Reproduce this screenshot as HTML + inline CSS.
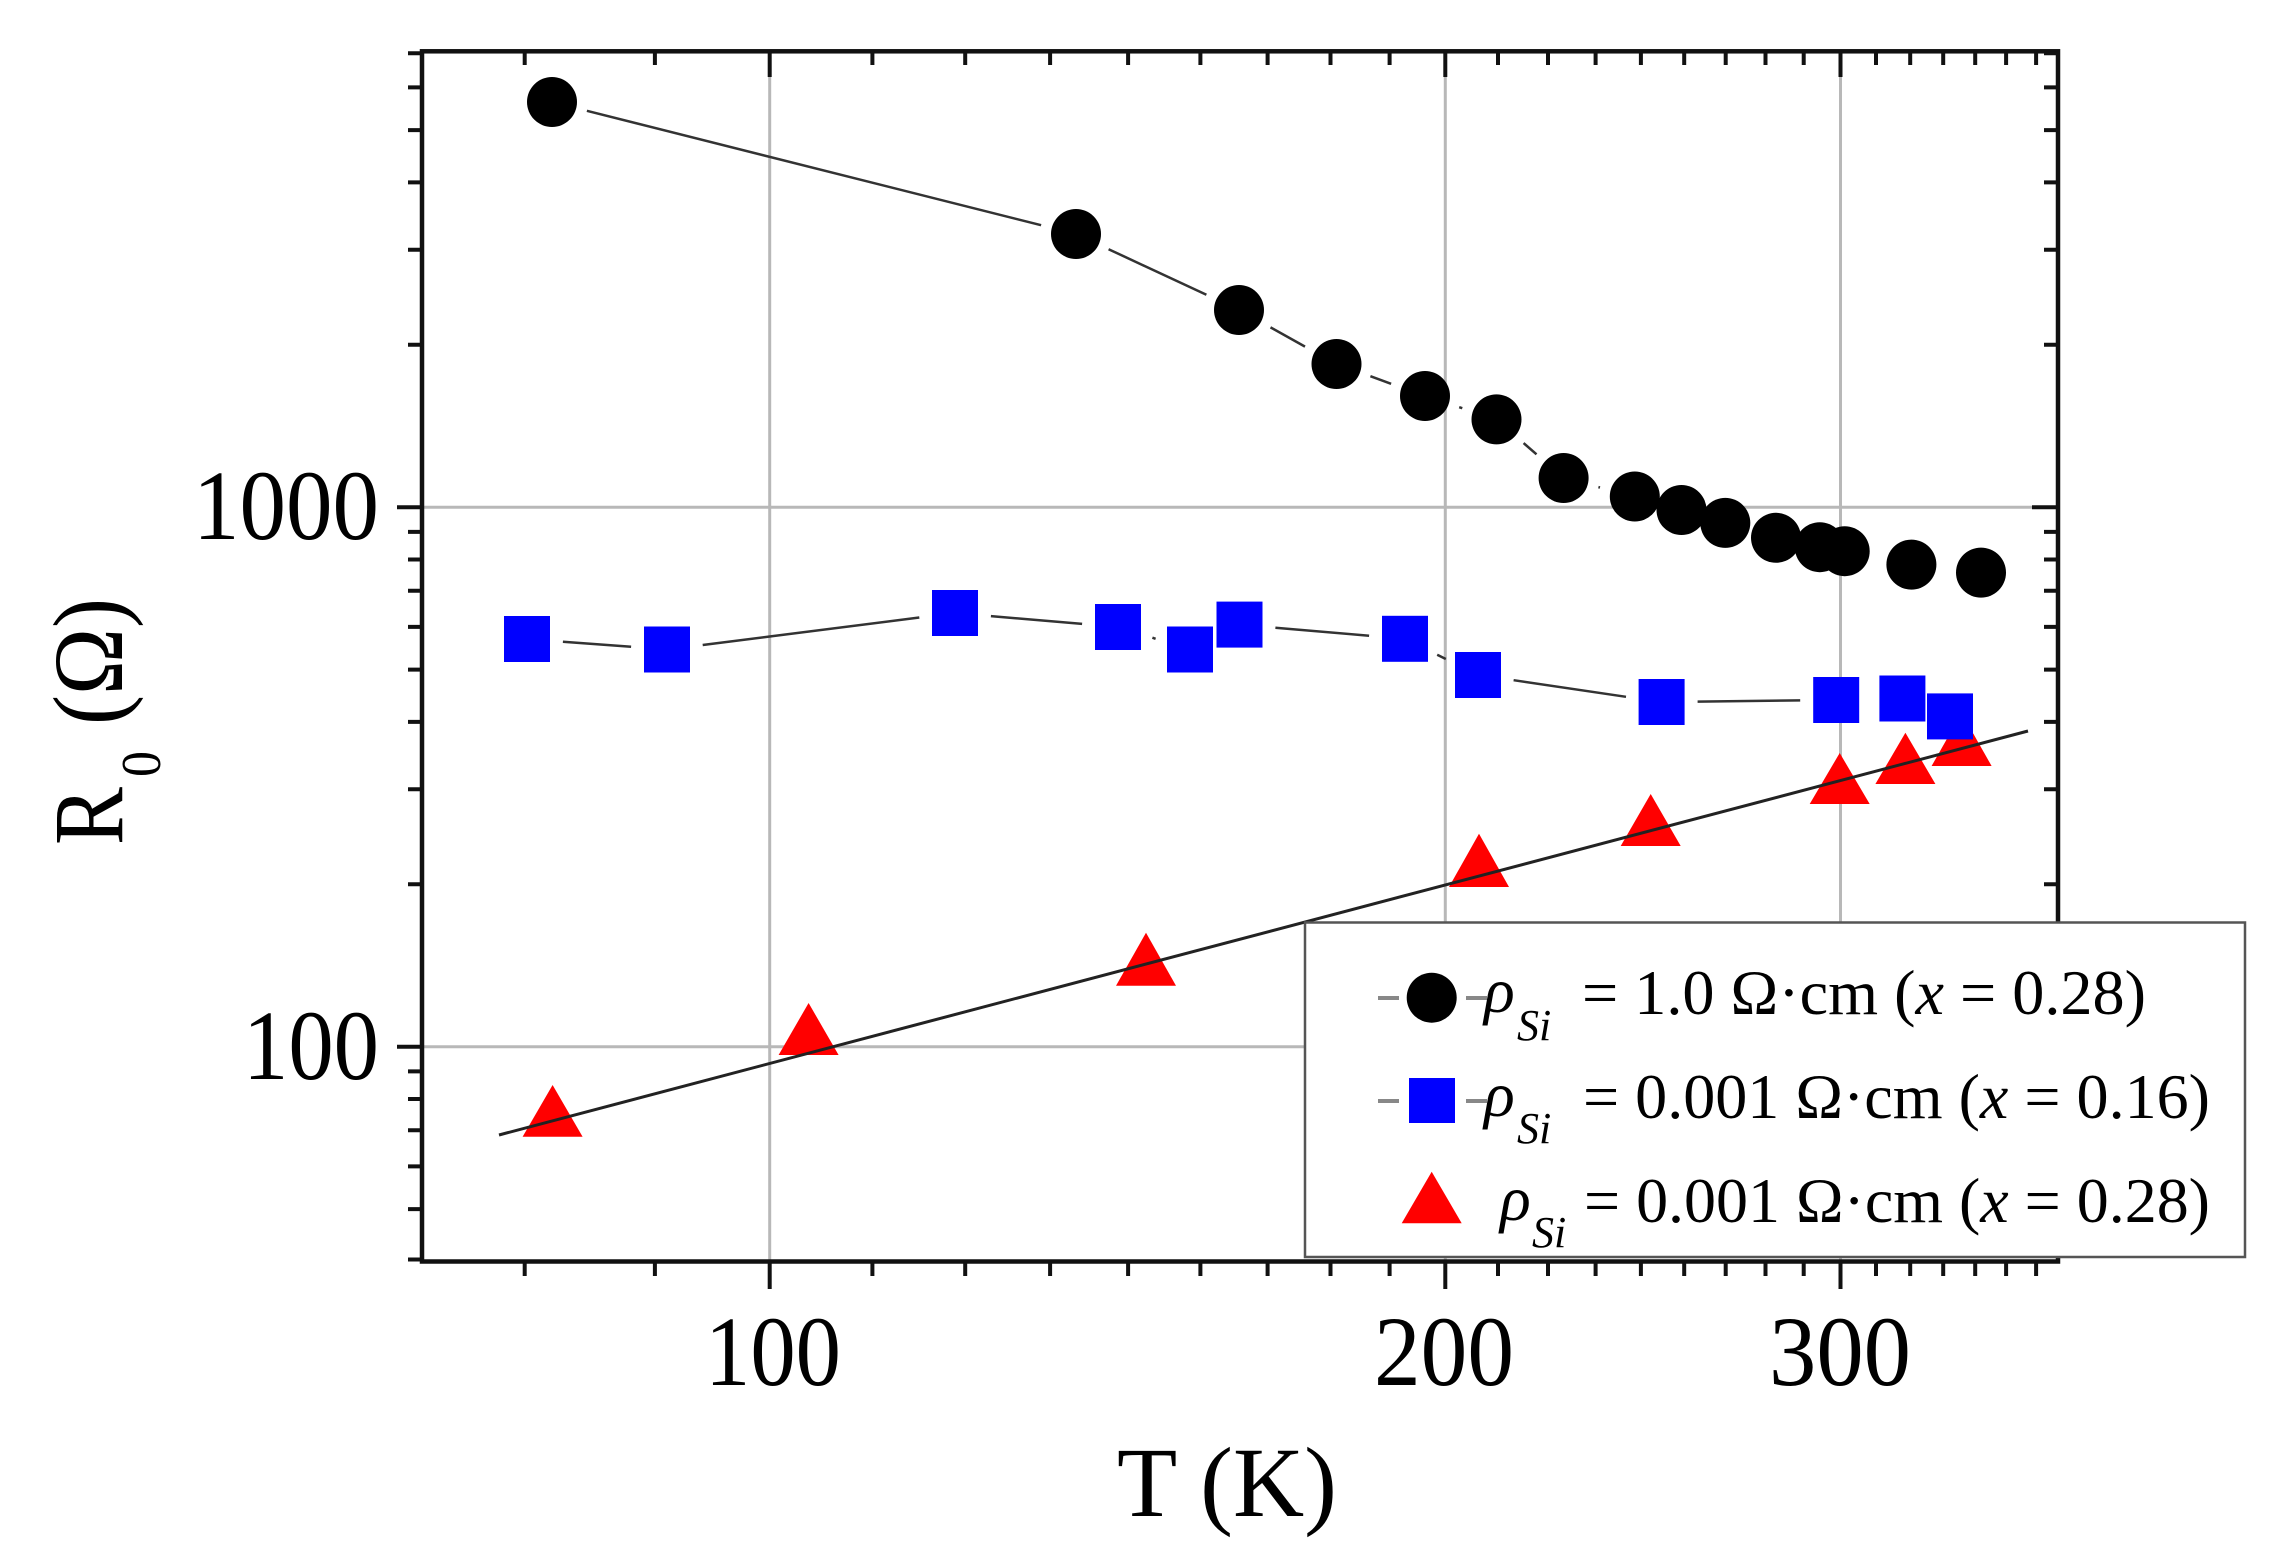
<!DOCTYPE html>
<html>
<head>
<meta charset="utf-8">
<style>
html,body{margin:0;padding:0;background:#fff;}
svg{display:block;}
text{font-family:"Liberation Serif","DejaVu Serif",serif;fill:#000;}
</style>
</head>
<body>
<svg width="2269" height="1554" viewBox="0 0 2269 1554" xmlns="http://www.w3.org/2000/svg">
<rect x="0" y="0" width="2269" height="1554" fill="#fff"/>

<!-- gridlines -->
<g stroke="#b8b8b8" stroke-width="3">
  <line x1="769.7" y1="51" x2="769.7" y2="1262"/>
  <line x1="1445.3" y1="51" x2="1445.3" y2="1262"/>
  <line x1="1840.5" y1="51" x2="1840.5" y2="1262"/>
  <line x1="422" y1="507.2" x2="2058" y2="507.2"/>
  <line x1="422" y1="1046.7" x2="2058" y2="1046.7"/>
</g>

<!-- triangles series -->
<g fill="#ff0000">
  <polygon points="522.6,1136.7 552.6,1085 582.6,1136.7"/>
  <polygon points="778.6,1055 808.6,1003 838.6,1055"/>
  <polygon points="1116,985.7 1146,932.7 1176,985.7"/>
  <polygon points="1449,887 1479,833.8 1509,887"/>
  <polygon points="1620.7,846 1650.7,794 1680.7,846"/>
  <polygon points="1809.7,804 1839.7,753 1869.7,804"/>
  <polygon points="1875.4,784 1905.4,732.8 1935.4,784"/>
  <polygon points="1931.6,766 1961.6,713 1991.6,766"/>
</g>
<!-- fit line -->
<line x1="499" y1="1135" x2="2028" y2="731" stroke="#222" stroke-width="3"/>

<!-- squares connection lines -->
<g stroke="#333" stroke-width="2.5">
  <line x1="562.9" y1="641.7" x2="631.1" y2="646.8"/>
  <line x1="702.7" y1="645" x2="919.3" y2="617.5"/>
  <line x1="990.9" y1="616.1" x2="1082.1" y2="623.9"/>
  <line x1="1152.4" y1="637.7" x2="1155.6" y2="638.8"/>
  <line x1="1275.4" y1="627.7" x2="1369.1" y2="635.7"/>
  <line x1="1437.2" y1="654.8" x2="1445.8" y2="659"/>
  <line x1="1513.6" y1="680.2" x2="1626" y2="696.8"/>
  <line x1="1697.6" y1="701.6" x2="1800.2" y2="700.4"/>
</g>
<g fill="#0000ff">
  <rect x="504" y="616" width="46" height="46"/>
  <rect x="644" y="626.5" width="46" height="46"/>
  <rect x="932" y="590" width="46" height="46"/>
  <rect x="1095" y="604" width="46" height="46"/>
  <rect x="1167" y="626.5" width="46" height="46"/>
  <rect x="1216.5" y="601.6" width="46" height="46"/>
  <rect x="1382" y="615.8" width="46" height="46"/>
  <rect x="1455" y="652" width="46" height="46"/>
  <rect x="1638.6" y="679" width="46" height="46"/>
  <rect x="1813.2" y="677" width="46" height="46"/>
  <rect x="1879.4" y="675.5" width="46" height="46"/>
  <rect x="1927" y="693.4" width="46" height="46"/>
</g>

<!-- circles connection lines -->
<g stroke="#333" stroke-width="2.5">
  <line x1="586.9" y1="110.8" x2="1041.1" y2="225.2"/>
  <line x1="1108.6" y1="249.2" x2="1206.4" y2="294.8"/>
  <line x1="1270.5" y1="327.4" x2="1305" y2="346.6"/>
  <line x1="1370.4" y1="376.2" x2="1391.1" y2="383.8"/>
  <line x1="1459.2" y1="407.2" x2="1462.3" y2="408.2"/>
  <line x1="1523.6" y1="443.1" x2="1536.5" y2="454.3"/>
  <line x1="1598.4" y1="487.1" x2="1600" y2="487.5"/>
</g>
<g fill="#000">
  <circle cx="552" cy="102" r="25"/>
  <circle cx="1076" cy="234" r="25"/>
  <circle cx="1239" cy="310" r="25"/>
  <circle cx="1336.5" cy="364" r="25"/>
  <circle cx="1425" cy="396" r="25"/>
  <circle cx="1496.5" cy="419.4" r="25"/>
  <circle cx="1563.6" cy="478" r="25"/>
  <circle cx="1634.8" cy="496.5" r="25"/>
  <circle cx="1681.5" cy="510" r="25"/>
  <circle cx="1725.3" cy="522.9" r="25"/>
  <circle cx="1776" cy="537.8" r="25"/>
  <circle cx="1819.8" cy="547.2" r="25"/>
  <circle cx="1844.7" cy="551.2" r="25"/>
  <circle cx="1911.4" cy="564.6" r="25"/>
  <circle cx="1981" cy="572.6" r="25"/>
</g>

<!-- axes frame -->
<rect x="422" y="51.3" width="1636" height="1210.2" fill="none" stroke="#111" stroke-width="4.5"/>

<!-- ticks -->
<g stroke="#111" stroke-width="4">
  <path d="M524.7 1262v14 M654.9 1262v14 M872.4 1262v14 M965.2 1262v14 M1050.1 1262v14 M1128.1 1262v14 M1200.4 1262v14 M1267.6 1262v14 M1330.5 1262v14 M1389.6 1262v14 M1498 1262v14 M1548 1262v14 M1595.6 1262v14 M1640.9 1262v14 M1684.2 1262v14 M1725.7 1262v14 M1765.5 1262v14 M1803.7 1262v14 M1876 1262v14 M1910.2 1262v14 M1943.2 1262v14 M1975.2 1262v14 M2006.1 1262v14 M2036.1 1262v14"/>
  <path d="M769.7 1262v27 M1445.3 1262v27 M1840.5 1262v27"/>
  <path d="M524.7 51v14 M654.9 51v14 M872.4 51v14 M965.2 51v14 M1050.1 51v14 M1128.1 51v14 M1200.4 51v14 M1267.6 51v14 M1330.5 51v14 M1389.6 51v14 M1498 51v14 M1548 51v14 M1595.6 51v14 M1640.9 51v14 M1684.2 51v14 M1725.7 51v14 M1765.5 51v14 M1803.7 51v14 M1876 51v14 M1910.2 51v14 M1943.2 51v14 M1975.2 51v14 M2006.1 51v14 M2036.1 51v14"/>
  <path d="M769.7 51v26 M1445.3 51v26 M1840.5 51v26"/>
  <path d="M422 53.3h-14 M422 87.4h-14 M422 130.1h-14 M422 182.4h-14 M422 249.8h-14 M422 344.8h-14 M422 531.9h-14 M422 559.5h-14 M422 590.8h-14 M422 626.9h-14 M422 669.6h-14 M422 721.9h-14 M422 789.3h-14 M422 884.3h-14 M422 1071.4h-14 M422 1099h-14 M422 1130.3h-14 M422 1166.4h-14 M422 1209.1h-14 M422 1259.5h-14"/>
  <path d="M422 507.2h-25 M422 1046.7h-25"/>
  <path d="M2058 53.3h-14 M2058 87.4h-14 M2058 130.1h-14 M2058 182.4h-14 M2058 249.8h-14 M2058 344.8h-14 M2058 531.9h-14 M2058 559.5h-14 M2058 590.8h-14 M2058 626.9h-14 M2058 669.6h-14 M2058 721.9h-14 M2058 789.3h-14 M2058 884.3h-14 M2058 1071.4h-14 M2058 1099h-14 M2058 1130.3h-14 M2058 1166.4h-14 M2058 1209.1h-14"/>
  <path d="M2058 507.2h-26 M2058 1046.7h-26"/>
</g>

<!-- legend -->
<rect x="1305" y="922.5" width="940" height="334.5" fill="#fff" stroke="#555" stroke-width="2.5"/>
<g stroke="#888" stroke-width="4">
  <line x1="1378" y1="998" x2="1399" y2="998"/>
  <line x1="1466" y1="998" x2="1487" y2="998"/>
  <line x1="1378" y1="1101" x2="1399" y2="1101"/>
  <line x1="1466" y1="1101" x2="1487" y2="1101"/>
</g>
<circle cx="1431.7" cy="997.7" r="25" fill="#000"/>
<rect x="1409" y="1078" width="46" height="45" fill="#0000ff"/>
<polygon points="1401.7,1223.3 1431.7,1171.7 1461.7,1223.3" fill="#ff0000"/>

<text x="1484" y="1012" font-size="64" font-style="italic">ρ</text>
<text x="1517" y="1040" font-size="44" font-style="italic">Si</text>
<text x="1582" y="1014" font-size="64" textLength="564" lengthAdjust="spacingAndGlyphs">= 1.0 Ω·cm (<tspan font-style="italic">x</tspan> = 0.28)</text>

<text x="1484" y="1116" font-size="64" font-style="italic">ρ</text>
<text x="1517" y="1143" font-size="44" font-style="italic">Si</text>
<text x="1583" y="1118" font-size="64" textLength="627" lengthAdjust="spacingAndGlyphs">= 0.001 Ω·cm (<tspan font-style="italic">x</tspan> = 0.16)</text>

<text x="1500" y="1220" font-size="64" font-style="italic">ρ</text>
<text x="1532" y="1247" font-size="44" font-style="italic">Si</text>
<text x="1584" y="1222" font-size="64" textLength="626" lengthAdjust="spacingAndGlyphs">= 0.001 Ω·cm (<tspan font-style="italic">x</tspan> = 0.28)</text>

<!-- tick labels -->
<text x="379" y="539" font-size="100" text-anchor="end" textLength="186" lengthAdjust="spacingAndGlyphs">1000</text>
<text x="379" y="1079" font-size="100" text-anchor="end" textLength="136" lengthAdjust="spacingAndGlyphs">100</text>
<text x="773" y="1385" font-size="100" text-anchor="middle" textLength="136" lengthAdjust="spacingAndGlyphs">100</text>
<text x="1444" y="1385" font-size="100" text-anchor="middle" textLength="140" lengthAdjust="spacingAndGlyphs">200</text>
<text x="1840" y="1385" font-size="100" text-anchor="middle" textLength="142" lengthAdjust="spacingAndGlyphs">300</text>

<!-- axis titles -->
<text x="1117" y="1516" font-size="100" textLength="220" lengthAdjust="spacingAndGlyphs">T (K)</text>
<g transform="translate(122,845) rotate(-90)">
  <text x="0" y="0" font-size="100" textLength="58" lengthAdjust="spacingAndGlyphs">R</text>
  <text x="68" y="38" font-size="56" textLength="26" lengthAdjust="spacingAndGlyphs">0</text>
  <text x="120" y="0" font-size="100" textLength="127" lengthAdjust="spacingAndGlyphs">(Ω)</text>
</g>
</svg>
</body>
</html>
